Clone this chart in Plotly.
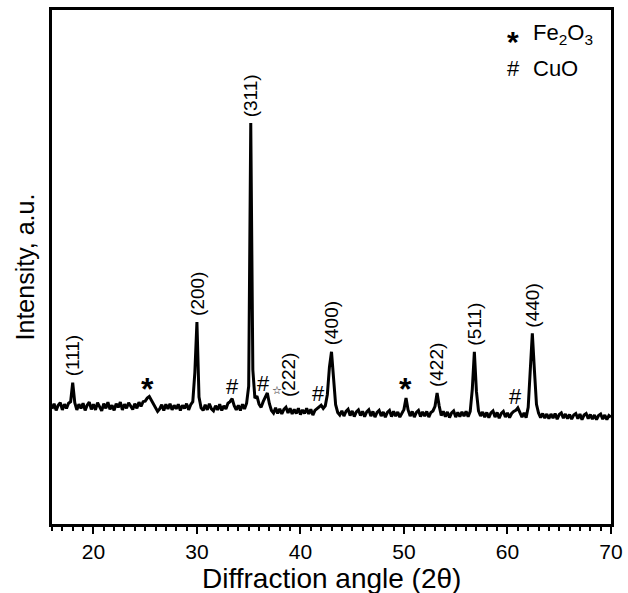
import numpy as np
import plotly.graph_objects as go

# XRD scan: 2-theta from 16 to 70 degrees, 0.2 degree step
scan_start, scan_stop, scan_step = 16.0, 70.0, 0.2
two_theta = np.round(np.arange(scan_start, scan_stop + scan_step / 2, scan_step), 1)

# Measured intensity (a.u.), one row per 2 degrees
counts = [
    224, 234, 221, 231, 236, 222, 233, 225, 235, 238,   # 16.0 - 17.8
    275, 236, 222, 233, 225, 235, 221, 231, 237, 223,   # 18.0 - 19.8
    233, 222, 236, 227, 220, 234, 225, 237, 223, 231,   # 20.0 - 21.8
    221, 234, 227, 237, 222, 233, 225, 236, 229, 223,   # 22.0 - 23.8
    234, 225, 237, 229, 238, 239, 245, 248, 241, 233,   # 24.0 - 25.8
    226, 219, 224, 232, 221, 233, 224, 234, 222, 231,   # 26.0 - 27.8
    224, 233, 221, 231, 225, 234, 222, 232, 238, 295,   # 28.0 - 29.8
    393, 247, 226, 221, 232, 222, 234, 224, 220, 230,   # 30.0 - 31.8
    222, 233, 221, 230, 224, 235, 238, 244, 230, 222,   # 32.0 - 33.8
    231, 221, 233, 224, 235, 268, 780, 300, 245, 249,   # 34.0 - 35.8
    233, 227, 238, 247, 255, 234, 221, 216, 226, 215,   # 36.0 - 37.8
    224, 214, 223, 227, 216, 225, 214, 223, 215, 225,   # 38.0 - 39.8
    213, 222, 215, 225, 214, 223, 212, 221, 224, 227,   # 40.0 - 41.8
    231, 225, 230, 252, 305, 335, 285, 232, 217, 212,   # 42.0 - 43.8
    220, 210, 219, 223, 211, 220, 209, 218, 222, 211,   # 44.0 - 45.8
    219, 209, 218, 222, 210, 219, 208, 217, 221, 210,   # 46.0 - 47.8
    218, 208, 217, 221, 209, 219, 210, 218, 208, 217,   # 48.0 - 49.8
    223, 245, 222, 210, 219, 208, 217, 221, 209, 218,   # 50.0 - 51.8
    210, 219, 208, 217, 220, 229, 255, 230, 211, 219,   # 52.0 - 53.8
    209, 218, 207, 216, 220, 208, 217, 209, 218, 210,   # 54.0 - 55.8
    219, 209, 219, 262, 335, 258, 220, 210, 218, 208,   # 56.0 - 57.8
    217, 207, 216, 220, 208, 217, 206, 215, 219, 208,   # 58.0 - 59.8
    216, 207, 215, 219, 221, 226, 217, 208, 216, 207,   # 60.0 - 61.8
    227, 292, 371, 300, 233, 216, 207, 215, 206, 214,   # 62.0 - 63.8
    205, 214, 206, 215, 204, 213, 216, 206, 214, 205,   # 64.0 - 65.8
    213, 204, 212, 215, 205, 214, 203, 212, 215, 205,   # 66.0 - 67.8
    213, 204, 212, 203, 211, 214, 204, 212, 203, 211,   # 68.0 - 69.8
    208,                                                # 70.0
]

# Spinel reflections (hkl) and their 2-theta positions
hkl_labels = ["(111)", "(200)", "(311)", "(222)", "(400)", "(422)", "(511)", "(440)"]
hkl_angles = [18.0, 30.0, 35.2, 36.8, 43.0, 53.2, 56.8, 62.4]

# Secondary phase markers: symbol, 2-theta, intensity level of the symbol
phase_symbols = ["*", "#", "#", "#", "*", "#"]
phase_angles = [25.2, 33.4, 36.4, 41.7, 50.1, 60.8]
phase_levels = [274, 267, 274, 254, 274, 248]

x_ticks = [20, 30, 40, 50, 60, 70]

FONT = "Liberation Sans, Arial, sans-serif"

fig = go.Figure()
fig.add_trace(go.Scatter(
    x=two_theta, y=counts, mode="lines",
    line=dict(color="black", width=3),
    showlegend=False, hoverinfo="skip",
))

annotations = []
angles = np.asarray(two_theta)
vals = np.asarray(counts)
for label, ang in zip(hkl_labels, hkl_angles):
    idx = int(np.argmin(np.abs(angles - ang)))
    top = vals[max(idx - 1, 0):idx + 2].max()
    ann = dict(x=ang, y=top, text=label, textangle=-90, showarrow=False,
               xanchor="center", yanchor="bottom", yshift=4,
               font=dict(family=FONT, size=19, color="black"))
    if label == "(222)":
        ann.update(x=38.9, y=255, yanchor="middle", yshift=18)
    annotations.append(ann)

for sym, ang, lev in zip(phase_symbols, phase_angles, phase_levels):
    if sym == "*":
        annotations.append(dict(x=ang, y=lev, text="<b>*</b>", showarrow=False,
                                xanchor="center", yanchor="middle", yshift=-6,
                                font=dict(family=FONT, size=32, color="black")))
    else:
        annotations.append(dict(x=ang, y=lev, text="#", showarrow=False,
                                xanchor="center", yanchor="middle",
                                font=dict(family=FONT, size=22, color="black")))

# small open star beside the (222) reflection
annotations.append(dict(x=37.7, y=260, text="☆", showarrow=False,
                        xanchor="center", yanchor="middle",
                        font=dict(family="DejaVu Sans", size=11, color="black")))

# phase key in the upper right corner
annotations.append(dict(x=0.825, y=0.95, xref="paper", yref="paper", text="<b>*</b>",
                        showarrow=False, xanchor="center", yanchor="middle", yshift=-6,
                        font=dict(family=FONT, size=30, color="black")))
annotations.append(dict(x=0.857, y=0.953, xref="paper", yref="paper",
                        text="Fe<sub>2</sub>O<sub>3</sub>", showarrow=False,
                        xanchor="left", yanchor="middle",
                        font=dict(family=FONT, size=22, color="black")))
annotations.append(dict(x=0.825, y=0.887, xref="paper", yref="paper", text="#",
                        showarrow=False, xanchor="center", yanchor="middle",
                        font=dict(family=FONT, size=22, color="black")))
annotations.append(dict(x=0.857, y=0.887, xref="paper", yref="paper", text="CuO",
                        showarrow=False, xanchor="left", yanchor="middle",
                        font=dict(family=FONT, size=22, color="black")))

# x-axis title placed below the tick labels
annotations.append(dict(x=0.5, y=-0.106, xref="paper", yref="paper",
                        text="Diffraction angle (2θ)", showarrow=False,
                        xanchor="center", yanchor="middle",
                        font=dict(family=FONT, size=28, color="black")))

fig.update_layout(
    width=628, height=593,
    margin=dict(l=52, r=17, t=10, b=69),
    paper_bgcolor="white", plot_bgcolor="white",
    font=dict(family=FONT, color="black"),
    annotations=annotations,
    xaxis=dict(
        range=[scan_start, scan_stop], tickvals=x_ticks, automargin=False,
        ticks="outside", ticklen=7, tickwidth=2, tickcolor="black",
        minor=dict(ticks="outside", dtick=1, ticklen=4, tickwidth=1.5, tickcolor="black"),
        showline=True, mirror=True, linewidth=2.5, linecolor="black",
        showgrid=False, zeroline=False,
        tickfont=dict(family=FONT, size=21, color="black"),
    ),
    yaxis=dict(
        range=[0, 1000], showticklabels=False, ticks="", automargin=False,
        showline=True, mirror=True, linewidth=2.5, linecolor="black",
        showgrid=False, zeroline=False,
        title=dict(text="Intensity, a.u.", standoff=8,
                   font=dict(family=FONT, size=25, color="black")),
    ),
)

fig.write_html("out.html")
